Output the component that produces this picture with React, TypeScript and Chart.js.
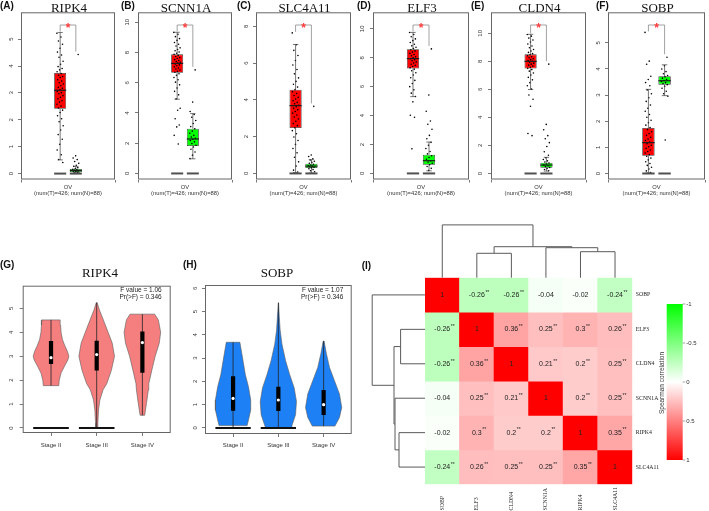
import React, { useEffect, useRef } from 'react';
import { Chart, registerables } from 'chart.js';

Chart.register(...registerables);

const SANS = '"Liberation Sans", Arial, sans-serif';
const SERIF = '"Liberation Serif", "Times New Roman", serif';

/* ================= (A)-(F) GEPIA boxplots ================= */
const BOX_GENES = ['RIPK4', 'SCNN1A', 'SLC4A11', 'ELF3', 'CLDN4', 'SOBP'];
const BOX_LETTERS = ['(A)', '(B)', '(C)', '(D)', '(E)', '(F)'];
const BOX_CATEGORY = 'OV';
const BOX_SAMPLE_NOTE = '(num(T)=426; num(N)=88)';

// [lower whisker, Q1, median, Q3, upper whisker]
const RIPK4_T_BOX = [0.51, 2.41, 3.1, 3.74, 5.25];
const RIPK4_N_BOX = [0, 0.05, 0.11, 0.17, 0.27];
const SCNN1A_T_BOX = [4.91, 6.66, 7.28, 7.88, 9.34];
const SCNN1A_N_BOX = [0.97, 1.81, 2.28, 2.96, 3.96];
const SLC4A11_T_BOX = [0.05, 2.47, 3.69, 4.56, 7.02];
const SLC4A11_N_BOX = [0.02, 0.29, 0.4, 0.53, 0.75];
const ELF3_T_BOX = [5.31, 7.25, 7.94, 8.59, 9.75];
const ELF3_N_BOX = [0.18, 0.6, 0.88, 1.29, 2.17];
const CLDN4_T_BOX = [5.99, 7.49, 8.0, 8.5, 9.93];
const CLDN4_N_BOX = [0.17, 0.41, 0.6, 0.76, 1.15];
const SOBP_T_BOX = [0.02, 0.68, 1.18, 1.74, 3.22];
const SOBP_N_BOX = [2.98, 3.4, 3.55, 3.72, 4.16];

// individual sample points (a readable subset)
const RIPK4_T_PTS = [5.22, 5.08, 4.93, 4.81, 4.66, 4.52, 4.41, 4.33, 4.18, 4.07, 3.98, 3.91, 3.86, 3.79, 3.72, 3.66, 3.61, 3.57, 3.49, 3.44, 3.38, 3.33, 3.27, 3.21, 3.17, 3.12, 3.06, 3.01, 2.97, 2.9, 2.84, 2.78, 2.71, 2.66, 2.58, 2.51, 2.44, 2.36, 2.27, 2.15, 2.04, 1.93, 1.78, 1.62, 1.45, 1.28, 1.09, 0.88, 0.7, 0.52, 0.41];
const RIPK4_N_PTS = [4.43, 0.66, 0.58, 0.52, 0.45, 0.38, 0.31, 0.27, 0.22, 0.19, 0.16, 0.14, 0.12, 0.1, 0.08, 0.07, 0.05, 0.03, 0.02];
const SCNN1A_T_PTS = [9.33, 9.2, 9.05, 8.92, 8.8, 8.66, 8.55, 8.43, 8.31, 8.2, 8.12, 8.03, 7.95, 7.88, 7.81, 7.74, 7.66, 7.6, 7.53, 7.47, 7.41, 7.35, 7.3, 7.24, 7.18, 7.12, 7.05, 6.98, 6.91, 6.84, 6.76, 6.69, 6.6, 6.49, 6.35, 6.2, 6.04, 5.86, 5.65, 5.43, 5.2, 4.93, 4.31, 4.18, 3.62, 3.21, 3.08, 2.52, 1.95];
const SCNN1A_N_PTS = [6.85, 4.72, 4.1, 3.9, 3.72, 3.5, 3.3, 3.1, 2.95, 2.8, 2.66, 2.52, 2.41, 2.33, 2.26, 2.18, 2.09, 1.98, 1.87, 1.75, 1.6, 1.42, 1.21, 0.98];
const SLC4A11_T_PTS = [7.65, 7.0, 6.7, 6.42, 6.15, 5.9, 5.66, 5.42, 5.2, 5.01, 4.85, 4.7, 4.56, 4.45, 4.35, 4.24, 4.14, 4.05, 3.96, 3.87, 3.79, 3.71, 3.63, 3.55, 3.46, 3.37, 3.28, 3.18, 3.07, 2.96, 2.84, 2.72, 2.6, 2.48, 2.33, 2.16, 1.98, 1.79, 1.58, 1.36, 1.12, 0.88, 0.63, 0.4, 0.18, 0.08];
const SLC4A11_N_PTS = [3.65, 1.0, 0.92, 0.8, 0.73, 0.66, 0.6, 0.55, 0.5, 0.46, 0.42, 0.39, 0.36, 0.33, 0.3, 0.26, 0.21, 0.15, 0.09];
const ELF3_T_PTS = [9.74, 9.6, 9.45, 9.3, 9.18, 9.05, 8.93, 8.82, 8.72, 8.63, 8.55, 8.47, 8.39, 8.3, 8.22, 8.14, 8.07, 8.0, 7.93, 7.86, 7.79, 7.71, 7.63, 7.55, 7.47, 7.39, 7.3, 7.21, 7.1, 6.96, 6.8, 6.62, 6.43, 6.22, 6.0, 5.78, 5.55, 5.32, 4.95, 4.02, 3.88, 1.7];
const ELF3_N_PTS = [8.61, 5.42, 4.3, 3.62, 3.4, 3.05, 2.63, 2.4, 2.15, 1.95, 1.72, 1.52, 1.35, 1.22, 1.1, 0.98, 0.88, 0.79, 0.7, 0.6, 0.48, 0.35, 0.2];
const CLDN4_T_PTS = [9.92, 9.8, 9.66, 9.52, 9.38, 9.24, 9.1, 8.97, 8.85, 8.74, 8.64, 8.55, 8.47, 8.4, 8.33, 8.26, 8.19, 8.12, 8.06, 8.0, 7.94, 7.87, 7.8, 7.73, 7.66, 7.58, 7.5, 7.41, 7.3, 7.17, 7.02, 6.86, 6.68, 6.48, 6.26, 6.02, 5.6, 5.3, 4.8, 2.85, 2.7];
const CLDN4_N_PTS = [7.8, 3.5, 3.12, 2.7, 2.48, 2.2, 1.92, 1.55, 1.3, 1.12, 1.0, 0.9, 0.82, 0.74, 0.67, 0.61, 0.55, 0.49, 0.43, 0.36, 0.28, 0.19];
const SOBP_T_PTS = [5.4, 4.3, 4.18, 3.72, 3.6, 3.48, 3.36, 3.2, 3.05, 2.9, 2.76, 2.62, 2.5, 2.38, 2.26, 2.15, 2.04, 1.94, 1.85, 1.76, 1.68, 1.6, 1.53, 1.46, 1.39, 1.32, 1.26, 1.2, 1.14, 1.08, 1.02, 0.96, 0.9, 0.84, 0.78, 0.72, 0.66, 0.59, 0.52, 0.45, 0.38, 0.31, 0.24, 0.17, 0.1, 0.04];
const SOBP_N_PTS = [4.45, 4.12, 4.0, 3.9, 3.82, 3.75, 3.7, 3.65, 3.6, 3.56, 3.52, 3.48, 3.44, 3.4, 3.34, 3.26, 3.15, 3.05, 2.96, 1.28];

const RIPK4_BOX_TICKS = [0, 1, 2, 3, 4, 5];
const SCNN1A_BOX_TICKS = [0, 2, 4, 6, 8, 10];
const SLC4A11_BOX_TICKS = [0, 2, 4, 6, 8];
const ELF3_BOX_TICKS = [0, 2, 4, 6, 8, 10];
const CLDN4_BOX_TICKS = [0, 2, 4, 6, 8, 10];
const SOBP_BOX_TICKS = [0, 1, 2, 3, 4, 5];
const BOX_Y_MIN = [-0.22, -0.4, -0.33, -0.42, -0.43, -0.23];
const BOX_Y_MAX = [6.0, 10.66, 8.77, 11.14, 11.5, 6.17];

const BOX_T_STATS = [RIPK4_T_BOX, SCNN1A_T_BOX, SLC4A11_T_BOX, ELF3_T_BOX, CLDN4_T_BOX, SOBP_T_BOX];
const BOX_N_STATS = [RIPK4_N_BOX, SCNN1A_N_BOX, SLC4A11_N_BOX, ELF3_N_BOX, CLDN4_N_BOX, SOBP_N_BOX];
const BOX_T_POINTS = [RIPK4_T_PTS, SCNN1A_T_PTS, SLC4A11_T_PTS, ELF3_T_PTS, CLDN4_T_PTS, SOBP_T_PTS];
const BOX_N_POINTS = [RIPK4_N_PTS, SCNN1A_N_PTS, SLC4A11_N_PTS, ELF3_N_PTS, CLDN4_N_PTS, SOBP_N_PTS];
const BOX_TICKS = [RIPK4_BOX_TICKS, SCNN1A_BOX_TICKS, SLC4A11_BOX_TICKS, ELF3_BOX_TICKS, CLDN4_BOX_TICKS, SOBP_BOX_TICKS];

/* ================= (G)-(H) stage violins ================= */
const STAGES = ['Stage II', 'Stage III', 'Stage IV'];

const RIPK4_II_LEVELS = [1.77, 2.0, 2.3, 2.6, 2.85, 3.0, 3.2, 3.45, 3.7, 4.0, 4.3, 4.52];
const RIPK4_II_WIDTHS = [0.17, 0.18, 0.22, 0.3, 0.37, 0.39, 0.36, 0.3, 0.25, 0.22, 0.21, 0.2];
const RIPK4_III_LEVELS = [0, 0.2, 0.75, 1.17, 1.6, 1.85, 2.4, 3.0, 3.55, 4.0, 4.55, 4.93, 5.24];
const RIPK4_III_WIDTHS = [0.02, 0.025, 0.04, 0.07, 0.14, 0.22, 0.32, 0.39, 0.34, 0.25, 0.14, 0.06, 0.01];
const RIPK4_IV_LEVELS = [0.53, 1.03, 1.59, 1.85, 2.44, 3.0, 3.55, 4.0, 4.52, 4.76];
const RIPK4_IV_WIDTHS = [0.05, 0.09, 0.13, 0.14, 0.21, 0.28, 0.37, 0.4, 0.35, 0.27];
// [min, Q1, median, Q3, max]
const RIPK4_II_SUMMARY = [1.77, 2.68, 2.94, 3.64, 4.52];
const RIPK4_III_SUMMARY = [0, 2.4, 3.07, 3.65, 5.24];
const RIPK4_IV_SUMMARY = [0.53, 2.31, 3.57, 4.03, 4.76];
const RIPK4_ZERO_STAGES = [true, true, false];
const RIPK4_F_VALUE = '1.06';
const RIPK4_PR_F = '0.346';

const SOBP_II_LEVELS = [0.1, 0.34, 0.77, 1.2, 1.77, 2.3, 3.0, 3.68];
const SOBP_II_WIDTHS = [0.31, 0.34, 0.39, 0.39, 0.34, 0.27, 0.21, 0.15];
const SOBP_III_LEVELS = [0, 0.1, 0.57, 1.14, 1.72, 2.3, 2.89, 3.6, 4.2, 4.8, 5.38];
const SOBP_III_WIDTHS = [0.28, 0.3, 0.38, 0.4, 0.35, 0.25, 0.16, 0.08, 0.04, 0.02, 0.005];
const SOBP_IV_LEVELS = [0.08, 0.45, 0.88, 1.46, 2.03, 2.6, 3.2, 3.73];
const SOBP_IV_WIDTHS = [0.25, 0.35, 0.4, 0.35, 0.24, 0.13, 0.06, 0.01];
const SOBP_II_SUMMARY = [0, 0.74, 1.27, 2.22, 3.68];
const SOBP_III_SUMMARY = [0, 0.73, 1.2, 1.77, 5.38];
const SOBP_IV_SUMMARY = [0.08, 0.56, 1.0, 1.63, 3.73];
const SOBP_ZERO_STAGES = [true, true, false];
const SOBP_F_VALUE = '1.07';
const SOBP_PR_F = '0.346';

const RIPK4_VIOLIN_TICKS = [0, 1, 2, 3, 4, 5];
const SOBP_VIOLIN_TICKS = [0, 1, 2, 3, 4, 5, 6];

/* ================= (I) Spearman correlation heatmap ================= */
const HM_GENES = ['SOBP', 'ELF3', 'CLDN4', 'SCNN1A', 'RIPK4', 'SLC4A11'];
const COR_SOBP = [1, -0.26, -0.26, -0.04, -0.02, -0.24];
const COR_ELF3 = [-0.26, 1, 0.36, 0.25, 0.3, 0.26];
const COR_CLDN4 = [-0.26, 0.36, 1, 0.21, 0.2, 0.25];
const COR_SCNN1A = [-0.04, 0.25, 0.21, 1, 0.2, 0.25];
const COR_RIPK4 = [-0.02, 0.3, 0.2, 0.2, 1, 0.35];
const COR_SLC4A11 = [-0.24, 0.26, 0.25, 0.25, 0.35, 1];
const SIG_SOBP = ['', '**', '**', '', '', '**'];
const SIG_ELF3 = ['**', '', '**', '**', '**', '**'];
const SIG_CLDN4 = ['**', '**', '', '**', '**', '**'];
const SIG_SCNN1A = ['', '**', '**', '', '**', '**'];
const SIG_RIPK4 = ['', '**', '**', '**', '', '**'];
const SIG_SLC4A11 = ['**', '**', '**', '**', '**', ''];
// hierarchical clustering merges: [node a, node b, height]; nodes 0-5 are genes, 6+ are merges in order
const DENDRO_MERGES = [[1, 2, 0.61], [4, 5, 0.65], [3, 7, 0.75], [6, 8, 0.775], [0, 9, 1.32]];
const COLORBAR_TICKS = [-1, -0.5, 0, 0.5, 1];
const COLORBAR_TITLE = 'Spearman correlation';

/* ---------------- helpers ---------------- */
// deterministic horizontal jitter in [-0.5, 0.5)
const jitter = (i: number) => ((i * 0.6180339887) % 1) - 0.5;

const corColor = (v: number) => {
  if (v >= 0) {
    const c = Math.round(255 * (1 - v));
    return `rgb(255,${c},${c})`;
  }
  const c = Math.round(255 * (1 + v));
  return `rgb(${c},255,${c})`;
};

/* ---------------- layout (positions only) ---------------- */
const FRAME_LEFT = [21, 138, 256, 373, 491, 608];
const FRAME_W = [95, 95, 96, 97, 96, 98];
const LETTER_X = [0, 121, 237, 357, 471, 596];

function BoxPanel({ idx }: { idx: number }) {
  const ref = useRef<HTMLCanvasElement | null>(null);
  const W = 21 + FRAME_W[idx] + 3;
  const H = 197;
  const left = FRAME_LEFT[idx] - 21;
  useEffect(() => {
    const tBox = BOX_T_STATS[idx];
    const nBox = BOX_N_STATS[idx];
    const tPts = BOX_T_POINTS[idx];
    const nPts = BOX_N_POINTS[idx];
    const plugin = {
      id: 'gepiaBox',
      afterDatasetsDraw(chart: any) {
        const { ctx, chartArea, scales } = chart;
        const x = scales.x;
        const y = scales.y;
        const bars = chart.getDatasetMeta(0).data;
        ctx.save();
        [tBox, nBox].forEach((s, k) => {
          const bx = bars[k].x;
          const bw = bars[k].width;
          const p = s.map((v: number) => y.getPixelForValue(v));
          ctx.strokeStyle = '#3c3c3c';
          ctx.lineWidth = 0.7;
          ctx.beginPath();
          ctx.moveTo(bx, p[3]); ctx.lineTo(bx, p[4]);
          ctx.moveTo(bx, p[1]); ctx.lineTo(bx, p[0]);
          ctx.moveTo(bx - bw * 0.22, p[4]); ctx.lineTo(bx + bw * 0.22, p[4]);
          ctx.moveTo(bx - bw * 0.22, p[0]); ctx.lineTo(bx + bw * 0.22, p[0]);
          ctx.stroke();
          ctx.strokeStyle = '#1a1a1a';
          ctx.lineWidth = 1.2;
          ctx.beginPath(); ctx.moveTo(bx - bw / 2, p[2]); ctx.lineTo(bx + bw / 2, p[2]); ctx.stroke();
          const y0 = y.getPixelForValue(0);
          ctx.strokeStyle = '#505050';
          ctx.lineWidth = 2;
          ctx.beginPath(); ctx.moveTo(bx - bw / 2, y0); ctx.lineTo(bx + bw / 2, y0); ctx.stroke();
        });
        const xT = x.getPixelForValue(1);
        const xN = x.getPixelForValue(2);
        const tMax = y.getPixelForValue(Math.max(...tPts, tBox[4]));
        const nMax = y.getPixelForValue(Math.max(...nPts, nBox[4]));
        const top = chartArea.top + 12.7;
        ctx.strokeStyle = '#8a8a8a';
        ctx.lineWidth = 0.8;
        ctx.beginPath();
        ctx.moveTo(xT, Math.max(top + 3, tMax - 1));
        ctx.lineTo(xT, top);
        ctx.lineTo(xN, top);
        ctx.lineTo(xN, nMax - 3);
        ctx.stroke();
        ctx.fillStyle = '#ff3b3b';
        ctx.font = `bold 12px ${SANS}`;
        ctx.textAlign = 'center';
        ctx.textBaseline = 'alphabetic';
        ctx.fillText('*', (xT + xN) / 2, top + 7);
        ctx.strokeStyle = '#666';
        ctx.lineWidth = 1;
        ctx.strokeRect(chartArea.left + 0.5, chartArea.top + 0.5, chartArea.width - 1, chartArea.height - 1);
        ctx.fillStyle = '#111';
        ctx.font = `13px ${SERIF}`;
        ctx.textAlign = 'center';
        ctx.fillText(BOX_GENES[idx], (chartArea.left + chartArea.right) / 2 + 1, 11.5);
        ctx.font = `bold 10px ${SANS}`;
        ctx.textAlign = 'left';
        ctx.textBaseline = 'middle';
        ctx.fillText(BOX_LETTERS[idx], LETTER_X[idx] - left, 6.5);
        ctx.restore();
      },
    };
    const chart = new Chart(ref.current as HTMLCanvasElement, {
      type: 'scatter',
      data: {
        datasets: [
          {
            type: 'bar',
            data: [{ x: 1, y: [tBox[1], tBox[3]] }, { x: 2, y: [nBox[1], nBox[3]] }],
            backgroundColor: ['#ff0000', '#00ff00'],
            borderColor: '#3a3a3a',
            borderWidth: 0.8,
            borderSkipped: false,
            barPercentage: 0.96,
            categoryPercentage: 0.8,
            order: 3,
          } as any,
          {
            type: 'scatter',
            data: tPts.map((v, k) => ({ x: 1 + jitter(k) * 0.42, y: v })),
            pointRadius: 0.8,
            backgroundColor: '#000',
            borderWidth: 0,
            order: 1,
          },
          {
            type: 'scatter',
            data: nPts.map((v, k) => ({ x: 2 + jitter(k + 3) * 0.42, y: v })),
            pointRadius: 0.8,
            backgroundColor: '#000',
            borderWidth: 0,
            order: 1,
          },
        ],
      },
      options: {
        responsive: false,
        animation: false,
        events: [],
        layout: { padding: { left: 0, right: 3, top: 12.3, bottom: 0 } },
        plugins: { legend: { display: false }, tooltip: { enabled: false }, title: { display: false } },
        scales: {
          x: {
            type: 'linear',
            min: 0,
            max: 3,
            afterBuildTicks: (s: any) => { s.ticks = [{ value: 1.5 }]; },
            ticks: { callback: () => BOX_CATEGORY, font: { size: 5.8, family: SANS }, color: '#333', padding: 1, maxRotation: 0 },
            grid: { drawOnChartArea: false, tickLength: 3, color: '#555', lineWidth: 0.8 },
            border: { display: false },
            title: { display: true, text: BOX_SAMPLE_NOTE, font: { size: 5.8, family: SANS }, color: '#333', padding: 0 },
            afterFit: (s: any) => { s.height = 17.5; },
          },
          y: {
            type: 'linear',
            min: BOX_Y_MIN[idx],
            max: BOX_Y_MAX[idx],
            afterBuildTicks: (s: any) => { s.ticks = BOX_TICKS[idx].map((v) => ({ value: v })); },
            ticks: { minRotation: 90, maxRotation: 90, crossAlign: 'center', padding: 4.6, font: { size: 6, family: SANS }, color: '#333' },
            grid: { drawOnChartArea: false, tickLength: 3, color: '#555', lineWidth: 0.8 },
            border: { display: false },
            afterFit: (s: any) => { s.width = 21; },
          },
        },
      } as any,
      plugins: [plugin],
    });
    return () => chart.destroy();
  }, []);
  return <canvas ref={ref} width={W} height={H} style={{ position: 'absolute', left, top: 0, width: W, height: H }} />;
}

interface ViolinSpec {
  gene: string; letter: string; letterX: number;
  canvasLeft: number; yAxisW: number; yPad: number; padTop: number; padRight: number; xAxisH: number; xPad: number;
  titleX: number; fX: number;
  yMin: number; yMax: number; ticks: number[]; color: string;
  levels: number[][]; widths: number[][]; summary: number[][]; zero: boolean[];
  fValue: string; prF: string;
}

const VIOLIN_G: ViolinSpec = {
  gene: 'RIPK4', letter: '(G)', letterX: 0,
  canvasLeft: 0, yAxisW: 22.7, yPad: 6.3, padTop: 30.7, padRight: 9.3, xAxisH: 22, xPad: 5.4,
  titleX: 100, fX: 161.7,
  yMin: -0.21, yMax: 5.95, ticks: RIPK4_VIOLIN_TICKS, color: '#f57f7f',
  levels: [RIPK4_II_LEVELS, RIPK4_III_LEVELS, RIPK4_IV_LEVELS],
  widths: [RIPK4_II_WIDTHS, RIPK4_III_WIDTHS, RIPK4_IV_WIDTHS],
  summary: [RIPK4_II_SUMMARY, RIPK4_III_SUMMARY, RIPK4_IV_SUMMARY],
  zero: RIPK4_ZERO_STAGES, fValue: RIPK4_F_VALUE, prF: RIPK4_PR_F,
};
const VIOLIN_H: ViolinSpec = {
  gene: 'SOBP', letter: '(H)', letterX: 183,
  canvasLeft: 182, yAxisW: 23, yPad: 5.3, padTop: 30, padRight: 10.3, xAxisH: 21, xPad: 4.4,
  titleX: 277, fX: 343.3,
  yMin: -0.26, yMax: 6.14, ticks: SOBP_VIOLIN_TICKS, color: '#1e80f5',
  levels: [SOBP_II_LEVELS, SOBP_III_LEVELS, SOBP_IV_LEVELS],
  widths: [SOBP_II_WIDTHS, SOBP_III_WIDTHS, SOBP_IV_WIDTHS],
  summary: [SOBP_II_SUMMARY, SOBP_III_SUMMARY, SOBP_IV_SUMMARY],
  zero: SOBP_ZERO_STAGES, fValue: SOBP_F_VALUE, prF: SOBP_PR_F,
};

function ViolinPanel({ spec }: { spec: ViolinSpec }) {
  const ref = useRef<HTMLCanvasElement | null>(null);
  const W = 180;
  const H = 200;
  const top = 255;
  useEffect(() => {
    const datasets: any[] = [];
    spec.levels.forEach((lv, s) => {
      const pos = s + 1;
      const w = spec.widths[s];
      const rightSide = lv.map((v, k) => ({ x: pos + w[k], y: v }));
      const leftSide = lv.map((v, k) => ({ x: pos - w[k], y: v })).reverse();
      datasets.push({
        type: 'line', data: [...rightSide, ...leftSide, rightSide[0]], fill: 'shape',
        backgroundColor: spec.color, borderColor: '#5a5a5a', borderWidth: 0.6, pointRadius: 0, tension: 0, order: 10,
      });
    });
    spec.summary.forEach((sm, s) => {
      const pos = s + 1;
      datasets.push({ type: 'line', data: [{ x: pos, y: sm[0] }, { x: pos, y: sm[4] }], borderColor: '#222', borderWidth: 0.8, pointRadius: 0, fill: false, order: 9 });
      datasets.push({ type: 'line', data: [{ x: pos, y: sm[1] }, { x: pos, y: sm[3] }], borderColor: '#000', borderWidth: 4.2, borderCapStyle: 'butt', pointRadius: 0, fill: false, order: 8 });
      datasets.push({ type: 'scatter', data: [{ x: pos, y: sm[2] }], pointRadius: 1.6, backgroundColor: '#fff', borderWidth: 0, order: 7 });
      if (spec.zero[s]) {
        datasets.push({ type: 'line', data: [{ x: pos - 0.39, y: 0 }, { x: pos + 0.39, y: 0 }], borderColor: '#111', borderWidth: 2, pointRadius: 0, fill: false, order: 6 });
      }
    });
    const plugin = {
      id: 'violinText',
      afterDatasetsDraw(chart: any) {
        const { ctx, chartArea } = chart;
        ctx.save();
        ctx.strokeStyle = '#666';
        ctx.lineWidth = 1;
        ctx.strokeRect(chartArea.left + 0.5, chartArea.top + 0.5, chartArea.width - 1, chartArea.height - 1);
        ctx.fillStyle = '#111';
        ctx.font = `13px ${SERIF}`;
        ctx.textAlign = 'center';
        ctx.textBaseline = 'alphabetic';
        ctx.fillText(spec.gene, spec.titleX - spec.canvasLeft, 21.7);
        ctx.font = `bold 10px ${SANS}`;
        ctx.textAlign = 'left';
        ctx.textBaseline = 'middle';
        ctx.fillText(spec.letter, spec.letterX - spec.canvasLeft, 10.5);
        ctx.font = `6.5px ${SANS}`;
        ctx.fillStyle = '#222';
        ctx.textAlign = 'right';
        ctx.fillText(`F value = ${spec.fValue}`, spec.fX - spec.canvasLeft, 35.3);
        ctx.fillText(`Pr(>F) = ${spec.prF}`, spec.fX - spec.canvasLeft, 42);
        ctx.restore();
      },
    };
    const chart = new Chart(ref.current as HTMLCanvasElement, {
      type: 'scatter',
      data: { datasets },
      options: {
        responsive: false,
        animation: false,
        events: [],
        layout: { padding: { left: 0, right: spec.padRight, top: spec.padTop, bottom: 0 } },
        plugins: { legend: { display: false }, tooltip: { enabled: false } },
        scales: {
          x: {
            type: 'linear', min: 0.38, max: 3.62,
            afterBuildTicks: (s: any) => { s.ticks = STAGES.map((_, k) => ({ value: k + 1 })); },
            ticks: { callback: (_v: any, i: number) => STAGES[i], font: { size: 6, family: SANS }, color: '#333', padding: spec.xPad, maxRotation: 0, autoSkip: false },
            grid: { drawOnChartArea: false, tickLength: 3, color: '#555', lineWidth: 0.8 },
            border: { display: false },
            afterFit: (s: any) => { s.height = spec.xAxisH; },
          },
          y: {
            type: 'linear', min: spec.yMin, max: spec.yMax,
            afterBuildTicks: (s: any) => { s.ticks = spec.ticks.map((v) => ({ value: v })); },
            ticks: { minRotation: 90, maxRotation: 90, crossAlign: 'center', padding: spec.yPad, font: { size: 6, family: SANS }, color: '#333' },
            grid: { drawOnChartArea: false, tickLength: 3, color: '#555', lineWidth: 0.8 },
            border: { display: false },
            afterFit: (s: any) => { s.width = spec.yAxisW; },
          },
        },
      } as any,
      plugins: [plugin],
    });
    return () => chart.destroy();
  }, []);
  return <canvas ref={ref} width={W} height={H} style={{ position: 'absolute', left: spec.canvasLeft, top, width: W, height: H }} />;
}

function HeatmapPanel() {
  const ref = useRef<HTMLCanvasElement | null>(null);
  const W = 364;
  const H = 301;
  const left = 345;
  const top = 210;
  useEffect(() => {
    const rows = [COR_SOBP, COR_ELF3, COR_CLDN4, COR_SCNN1A, COR_RIPK4, COR_SLC4A11];
    const sig = [SIG_SOBP, SIG_ELF3, SIG_CLDN4, SIG_SCNN1A, SIG_RIPK4, SIG_SLC4A11];
    const DENDRO_PX = 40;
    const plugin = {
      id: 'heatmapExtras',
      afterDatasetsDraw(chart: any) {
        const { ctx, chartArea: ca, scales } = chart;
        const x = scales.x;
        const y = scales.y;
        ctx.save();
        rows.forEach((row, r) => {
          const meta = chart.getDatasetMeta(r);
          row.forEach((v, c) => {
            const el = meta.data[c];
            const cx = el.x;
            const cy = (el.y + el.base) / 2;
            const txt = String(v);
            ctx.font = `7px ${SANS}`;
            ctx.fillStyle = '#222';
            ctx.textAlign = 'center';
            ctx.textBaseline = 'middle';
            ctx.fillText(txt, cx, cy);
            if (sig[r][c]) {
              const tw = ctx.measureText(txt).width;
              ctx.font = `5px ${SANS}`;
              ctx.textAlign = 'left';
              ctx.fillText(sig[r][c], cx + tw / 2 + 0.6, cy - 2.6);
            }
          });
        });
        ctx.font = `5.8px ${SERIF}`;
        ctx.fillStyle = '#222';
        ctx.textAlign = 'left';
        ctx.textBaseline = 'middle';
        HM_GENES.forEach((g, r) => ctx.fillText(g, ca.right + 3.5, y.getPixelForValue(r + 0.5)));
        HM_GENES.forEach((g, c) => {
          ctx.save();
          ctx.translate(x.getPixelForValue(c), H - 0.5);
          ctx.rotate(-Math.PI / 2);
          ctx.fillText(g, 0, 0);
          ctx.restore();
        });
        const pos: number[] = HM_GENES.map((_, k) => k);
        const hts: number[] = HM_GENES.map(() => 0);
        ctx.strokeStyle = '#5a5a5a';
        ctx.lineWidth = 1;
        DENDRO_MERGES.forEach(([a, b, h]) => {
          const pa = pos[a], pb = pos[b];
          const xa = x.getPixelForValue(pa), xb = x.getPixelForValue(pb);
          const ya = ca.top - hts[a] * DENDRO_PX, yb = ca.top - hts[b] * DENDRO_PX, yh = ca.top - h * DENDRO_PX;
          ctx.beginPath();
          ctx.moveTo(xa, ya); ctx.lineTo(xa, yh); ctx.lineTo(xb, yh); ctx.lineTo(xb, yb);
          ctx.stroke();
          const ra = y.getPixelForValue(pa + 0.5), rb = y.getPixelForValue(pb + 0.5);
          const la = ca.left - hts[a] * DENDRO_PX, lb = ca.left - hts[b] * DENDRO_PX, lh = ca.left - h * DENDRO_PX;
          ctx.beginPath();
          ctx.moveTo(la, ra); ctx.lineTo(lh, ra); ctx.lineTo(lh, rb); ctx.lineTo(lb, rb);
          ctx.stroke();
          pos.push((pa + pb) / 2);
          hts.push(h);
        });
        const cbL = 321.7, cbR = 337.7, cbT = 94, cbB = 250;
        const grad = ctx.createLinearGradient(0, cbT, 0, cbB);
        grad.addColorStop(0, corColor(-1));
        grad.addColorStop(0.5, corColor(0));
        grad.addColorStop(1, corColor(1));
        ctx.fillStyle = grad;
        ctx.fillRect(cbL, cbT, cbR - cbL, cbB - cbT);
        ctx.strokeStyle = '#666';
        ctx.lineWidth = 0.6;
        ctx.font = `6px ${SANS}`;
        ctx.fillStyle = '#333';
        ctx.textAlign = 'left';
        COLORBAR_TICKS.forEach((v) => {
          const ty = cbT + ((v + 1) / 2) * (cbB - cbT);
          ctx.beginPath(); ctx.moveTo(cbR, ty); ctx.lineTo(cbR + 2.5, ty); ctx.stroke();
          ctx.fillText(String(v), cbR + 3.5, ty);
        });
        ctx.save();
        ctx.translate(317.5, 173);
        ctx.rotate(-Math.PI / 2);
        ctx.textAlign = 'center';
        ctx.font = `6.5px ${SANS}`;
        ctx.fillText(COLORBAR_TITLE, 0, 0);
        ctx.restore();
        ctx.fillStyle = '#111';
        ctx.font = `bold 10px ${SANS}`;
        ctx.textAlign = 'left';
        ctx.fillText('(I)', 16.7, 56.7);
        ctx.restore();
      },
    };
    const chart = new Chart(ref.current as HTMLCanvasElement, {
      type: 'bar',
      data: {
        labels: HM_GENES,
        datasets: rows.map((row, r) => ({
          data: row.map(() => [r, r + 1]),
          backgroundColor: row.map(corColor),
          borderWidth: 0,
          grouped: false,
          barPercentage: 1,
          categoryPercentage: 1,
          inflateAmount: 0.4,
        })) as any,
      },
      options: {
        responsive: false,
        animation: false,
        events: [],
        layout: { padding: { left: 80, top: 67.7, right: 76.7, bottom: 26.7 } },
        plugins: { legend: { display: false }, tooltip: { enabled: false } },
        scales: {
          x: { type: 'category', display: false, offset: true },
          y: { type: 'linear', display: false, min: 0, max: 6, reverse: true },
        },
      } as any,
      plugins: [plugin],
    });
    return () => chart.destroy();
  }, []);
  return <canvas ref={ref} width={W} height={H} style={{ position: 'absolute', left, top, width: W, height: H }} />;
}

export default function App() {
  return (
    <div style={{ position: 'absolute', left: 0, top: 0, width: 709, height: 511, background: '#fff', overflow: 'hidden' }}>
      {BOX_GENES.map((g, i) => <BoxPanel key={g} idx={i} />)}
      <ViolinPanel spec={VIOLIN_G} />
      <ViolinPanel spec={VIOLIN_H} />
      <HeatmapPanel />
    </div>
  );
}
